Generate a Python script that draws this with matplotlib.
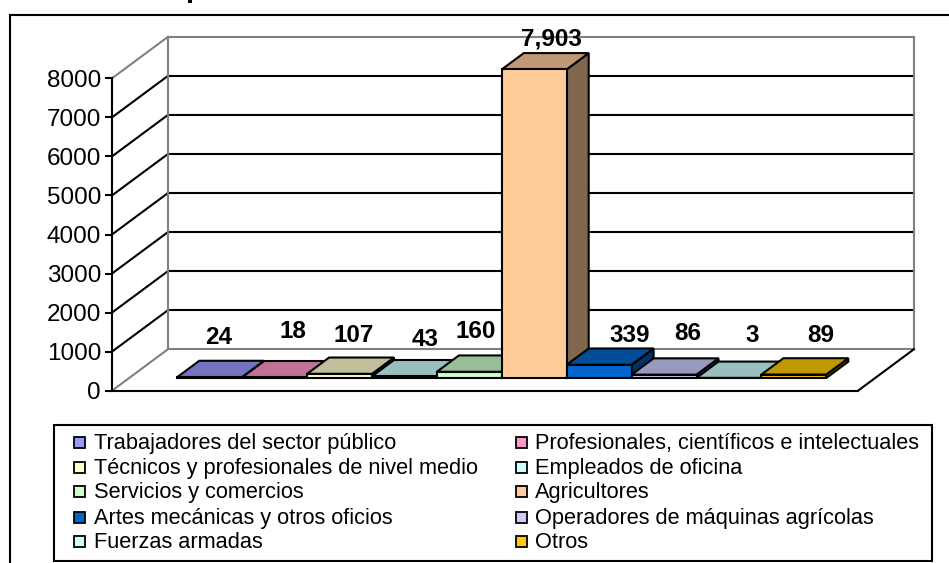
import matplotlib
matplotlib.use("Agg")
import matplotlib.pyplot as plt
from matplotlib.patches import Polygon, Rectangle
from matplotlib.colors import to_rgb

plt.rcParams['font.family'] = ['Liberation Sans', 'DejaVu Sans']

categories = ["Trabajadores del sector público", "Profesionales, científicos e intelectuales",
              "Técnicos y profesionales de nivel medio", "Empleados de oficina",
              "Servicios y comercios", "Agricultores",
              "Artes mecánicas y otros oficios", "Operadores de máquinas agrícolas",
              "Fuerzas armadas", "Otros"]
values = [24, 18, 107, 43, 160, 7903, 339, 86, 3, 89]
value_labels = ["24", "18", "107", "43", "160", "7,903", "339", "86", "3", "89"]
colors = ["#9999FF", "#FF99CC", "#FFFFCC", "#CCFFFF", "#CCFFCC",
          "#FFCC99", "#0066CC", "#CCCCFF", "#CCFFFF", "#FFCC00"]
yticks = [0, 1000, 2000, 3000, 4000, 5000, 6000, 7000, 8000]
label_px = [(219, 337), (293, 332), (354, 336), (425, 340), (476, 332),
            (551, 39), (630, 336), (688, 334), (752, 336), (821, 336)]

W, H = 949, 563
fig = plt.figure(figsize=(W/100, H/100), dpi=100, facecolor="white")
X0, X1, Y0, Y8 = 112, 858, 390.7, 78.3
ax = fig.add_axes([X0/W, 1-Y0/H, (X1-X0)/W, (Y0-Y8)/H])
UX = 64.9
UY = (Y0-Y8)/8000
BAR0 = 177.3
ax.set_xlim((X0-BAR0)/UX, (X1-BAR0)/UX)
ax.set_ylim(0, 8000)
ax.axis("off")

DX, DY = 56/UX, 41.5/UY     # full depth of the floor in data units
LW = 1.5


def P(x, y, d=0.0):
    return (x + DX*d, y + DY*d)


def poly(pts, fc="none", ec="k", lw=LW, z=2):
    ax.add_patch(Polygon(pts, closed=True, fc=fc, ec=ec, lw=lw, zorder=z,
                         clip_on=False, joinstyle="miter"))


def line(a, b, c="k", lw=LW, z=1):
    ax.plot([a[0], b[0]], [a[1], b[1]], color=c, lw=lw, zorder=z, clip_on=False,
            solid_capstyle="projecting")


xa, xb = ax.get_xlim()
GR = "#808080"
# gridlines on walls
for v in yticks[1:-1]:
    line(P(xa, v), P(xa, v, 1))
    line(P(xa, v, 1), P(xb, v, 1))
# walls
line(P(xa, 8000), P(xa, 8000, 1), GR)
line(P(xa, 8000, 1), P(xb, 8000, 1), GR)
line(P(xa, 0, 1), P(xa, 8000, 1), GR)
line(P(xb, 0, 1), P(xb, 8000, 1), GR)
line(P(xa, 0, 1), P(xb, 0, 1), GR)
line(P(xa, 0), P(xa, 0, 1), GR)
# floor
line(P(xa, 0), P(xb, 0))
line(P(xb, 0), P(xb, 0, 1))
# axis + ticks
line(P(xa, 0), P(xa, 8000))
tick = 6/UX
for v in yticks:
    line((xa-tick, v), (xa, v))
    ax.text(xa-tick-5/UX, v, str(v), ha="right", va="center_baseline", fontsize=17.5, color="k")

# bars
D0, D1 = 12.7/41.5, 29/41.5
for i, (v, c) in enumerate(zip(values, colors)):
    z = 3 + i
    rgb = to_rgb(c)
    top = tuple(k*0.75 for k in rgb)
    side = tuple(k*0.5 for k in rgb)
    base_x = i - D0*DX          # front face sits at x=i after the depth shift
    a, b = base_x, base_x+1
    poly([P(b, 0, D0), P(b, 0, D1), P(b, v, D1), P(b, v, D0)], fc=side, z=z)
    poly([P(a, v, D0), P(b, v, D0), P(b, v, D1), P(a, v, D1)], fc=top, z=z)
    poly([P(a, 0, D0), P(b, 0, D0), P(b, v, D0), P(a, v, D0)], fc=c, z=z)

# value labels
for (px, py), s in zip(label_px, value_labels):
    fig.text(px/W, 1-py/H, s, ha="center", va="center", fontsize=17.5, fontweight="bold", zorder=20)

# frame (open at the right and the bottom, as cropped in the source)
fig.add_artist(plt.Line2D([10/W, 10/W, 1], [0, 1-15/H, 1-15/H],
                          color="k", lw=1.5, transform=fig.transFigure,
                          solid_joinstyle="miter"))
# remnant of the cropped title above the frame
fig.add_artist(Rectangle((188/W, 1-3/H), 4/W, 3/H, fc="k", ec="none",
                         transform=fig.transFigure))
# legend box
fig.add_artist(Rectangle((54/W, 1-560.7/H), 878/W, 135.7/H, fc="white", ec="k", lw=1.5,
                         transform=fig.transFigure, zorder=10))
rows = [442, 467, 491, 517, 541]
cols = [(74, 94), (516, 535)]
for i, (name, c) in enumerate(zip(categories, colors)):
    r, col = i//2, i % 2
    sx, tx = cols[col]
    y = rows[r]
    fig.add_artist(Rectangle((sx/W, 1-(y+5.5)/H), 11/W, 11/H, fc=c, ec="k", lw=1.3,
                             transform=fig.transFigure, zorder=11))
    fig.text(tx/W, 1-(y+1.5)/H, name, ha="left", va="center", fontsize=15.7, zorder=12)

fig.savefig("out.png", dpi=100)
